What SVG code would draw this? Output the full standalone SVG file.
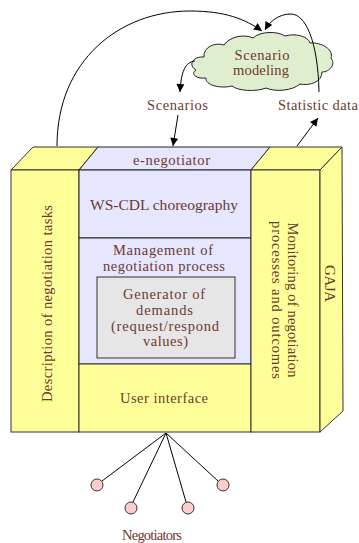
<svg xmlns="http://www.w3.org/2000/svg" width="359" height="543" viewBox="0 0 359 543">
<defs>
<marker id="ah" viewBox="0 0 10 10" refX="10" refY="5" markerWidth="9" markerHeight="8" markerUnits="userSpaceOnUse" orient="auto">
<path d="M0,0 L10,5 L0,10 Z" fill="#000"/>
</marker>
<style>
text{font-family:"Liberation Serif","Times New Roman","DejaVu Serif",serif;font-size:14.5px;fill:#6b3a2e;text-anchor:middle}
.y{fill:#ffff99;stroke:#333;stroke-width:1}
.p{fill:#e6e6ff;stroke:#222;stroke-width:1}
.g{fill:#e6e6e6;stroke:#333;stroke-width:1}
.c{fill:none;stroke:#000;stroke-width:1}
.n{fill:#ffcccc;stroke:#333;stroke-width:1}
</style>
</defs>
<rect width="359" height="543" fill="#fff"/>

<g id="cloud">
<path d="M196,70 C188,66 192,56 204,57 C203,47 215,42 224,45 C230,36 245,34 253,38 C260,31 278,31 285,36 C295,33 308,36 310,43 C322,42 334,50 331,58 C336,64 330,72 322,72 C322,82 310,86 300,84 C292,91 275,92 266,88 C256,92 238,91 232,86 C220,89 205,85 206,78 C196,79 190,74 196,70 Z" fill="#dfeecf" stroke="#222" stroke-width="1"/>
<text font-family="Liberation Serif, serif" x="262" y="60" textLength="55" lengthAdjust="spacing">Scenario</text>
<text font-family="Liberation Serif, serif" x="261" y="75" textLength="56" lengthAdjust="spacing">modeling</text>
</g>

<g id="labels">
<text font-family="Liberation Serif, serif" x="177.5" y="110" textLength="61" lengthAdjust="spacing">Scenarios</text>
<text font-family="Liberation Serif, serif" x="318" y="110" textLength="80" lengthAdjust="spacing">Statistic data</text>
</g>

<g id="description">
<polygon class="y" points="11,170 33,147 98,147 79,170"/>
<rect class="y" x="11" y="170" width="68" height="262"/>
<text font-family="Liberation Serif, serif" transform="translate(52,303.5) rotate(-90)" textLength="197" lengthAdjust="spacing">Description of negotiation tasks</text>
</g>

<g id="e-negotiator">
<polygon class="p" points="79,170 98,147 270,147 251,170"/>
<text font-family="Liberation Serif, serif" x="171.5" y="165" textLength="77" lengthAdjust="spacing">e-negotiator</text>
</g>

<g id="ws-cdl">
<rect class="p" x="79" y="170" width="172" height="68"/>
<text font-family="Liberation Serif, serif" x="164" y="210" textLength="148" lengthAdjust="spacingAndGlyphs">WS-CDL choreography</text>
</g>

<g id="management">
<rect class="p" x="79" y="238" width="172" height="126"/>
<text font-family="Liberation Serif, serif" x="163" y="255" textLength="100" lengthAdjust="spacing">Management of</text>
<text font-family="Liberation Serif, serif" x="164" y="271" textLength="122" lengthAdjust="spacing">negotiation process</text>
</g>

<g id="generator">
<rect class="g" x="97" y="277" width="138" height="81"/>
<text font-family="Liberation Serif, serif" x="164" y="299" textLength="82" lengthAdjust="spacing">Generator of</text>
<text font-family="Liberation Serif, serif" x="164.5" y="315" textLength="57" lengthAdjust="spacing">demands</text>
<text font-family="Liberation Serif, serif" x="165" y="331" textLength="108" lengthAdjust="spacing">(request/respond</text>
<text font-family="Liberation Serif, serif" x="165.5" y="346" textLength="45" lengthAdjust="spacing">values)</text>
</g>

<g id="user-interface">
<rect class="y" x="79" y="364" width="172" height="68"/>
<text font-family="Liberation Serif, serif" x="164" y="402.5" textLength="88" lengthAdjust="spacing">User interface</text>
</g>

<g id="monitoring">
<polygon class="y" points="251,170 270,147 342,147 320,170"/>
<rect class="y" x="251" y="170" width="69" height="262"/>
<text font-family="Liberation Serif, serif" transform="translate(288,300) rotate(90)" textLength="155" lengthAdjust="spacing">Monitoring of negotiation</text>
<text font-family="Liberation Serif, serif" transform="translate(272,300) rotate(90)" textLength="158" lengthAdjust="spacing">processes and outcomes</text>
</g>

<g id="gaja">
<polygon class="y" points="320,170 342,147 343,411 320,432"/>
<text font-family="Liberation Serif, serif" style="font-size:15px" transform="translate(325,283.5) rotate(90)" textLength="37" lengthAdjust="spacing">GAJA</text>
</g>

<g id="negotiators">
<circle class="n" cx="97" cy="485" r="6"/>
<circle class="n" cx="131" cy="508" r="6"/>
<circle class="n" cx="188" cy="508" r="6"/>
<circle class="n" cx="223" cy="485" r="6"/>
<text font-family="Liberation Serif, serif" x="152" y="540" textLength="60" lengthAdjust="spacing">Negotiators</text>
</g>

<g id="connectors">
<path class="c" d="M57,146 C57,60 120,11 190,11 C225,11 245,19 262,31" marker-end="url(#ah)"/>
<path class="c" d="M319,92 C318,40 305,14 291,14 C279,14 270,21 265,30" marker-end="url(#ah)"/>
<path class="c" d="M195,61 C185,62 181,72 180,92" marker-end="url(#ah)"/>
<path class="c" d="M178,115 L173,146" marker-end="url(#ah)"/>
<path class="c" d="M297,146 L318,118" marker-end="url(#ah)"/>
<line class="c" x1="166" y1="433" x2="102" y2="481"/>
<line class="c" x1="166" y1="433" x2="133" y2="502"/>
<line class="c" x1="166" y1="433" x2="186" y2="502"/>
<line class="c" x1="166" y1="433" x2="218" y2="481"/>
</g>
</svg>
